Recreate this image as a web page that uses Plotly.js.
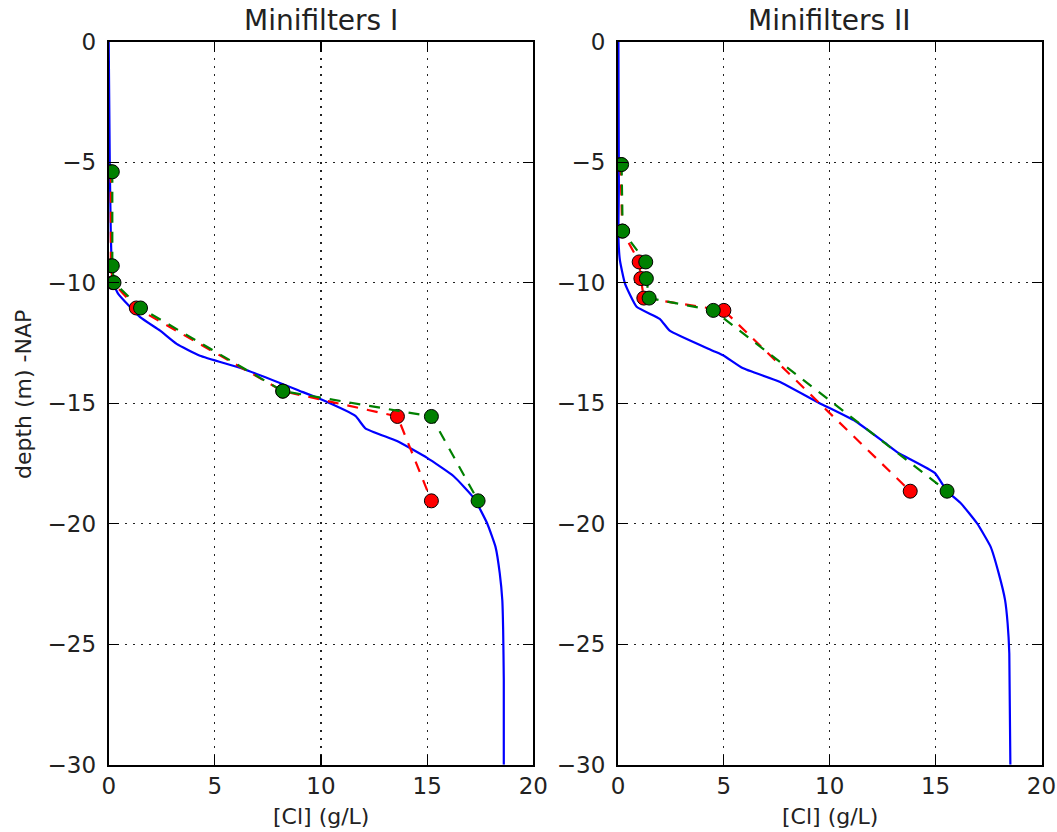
<!DOCTYPE html>
<html>
<head>
<meta charset="utf-8">
<script src="https://cdn.plot.ly/plotly-3.0.1.min.js"></script>
<style>body{margin:0;padding:0;background:#fff}#chart{width:1057px;height:832px}</style>
</head>
<body>
<div id="chart"></div>
<script>
// Panel I data
const blue1_x = [0.0, 0.05, 0.1, 0.15, 0.2, 0.45, 1.48, 2.42, 3.2, 4.3, 6.35, 9.0, 9.97, 11.62, 12.09, 13.58, 15.0, 16.25, 17.2, 17.83, 18.22, 18.42, 18.54, 18.58, 18.61, 18.61];
const blue1_y = [0, -5, -8, -9.5, -10.0, -10.46, -11.43, -11.99, -12.54, -13.03, -13.58, -14.49, -14.83, -15.53, -16.04, -16.57, -17.27, -18.03, -18.93, -19.99, -20.96, -22.06, -23.17, -24.4, -26.5, -30];
const red1_x = [0.1, 0.1, 0.2, 1.3, 8.2, 13.6, 15.2];
const red1_y = [-5.4, -9.3, -10.0, -11.05, -14.5, -15.55, -19.05];
const green1_x = [0.17, 0.17, 0.25, 1.5, 8.2, 15.2, 17.4];
const green1_y = [-5.4, -9.3, -10.0, -11.05, -14.5, -15.55, -19.05];

// Panel II data
const blue2_x = [0.02, 0.03, 0.04, 0.02, 0.09, 0.33, 0.88, 1.97, 2.44, 4.47, 5.0, 5.88, 7.6, 9.48, 11.2, 12.6, 13.24, 14.96, 15.54, 16.2, 16.96, 17.6, 17.98, 18.28, 18.4, 18.48, 18.53];
const blue2_y = [0, -3, -6, -8.1, -9.07, -10.04, -11.0, -11.5, -11.99, -12.82, -13.03, -13.54, -14.1, -14.98, -15.74, -16.64, -17.06, -17.89, -18.65, -19.16, -19.99, -20.96, -22.06, -23.17, -24.14, -25.38, -30];
const red2_x = [0.12, 0.2, 1.0, 1.08, 1.22, 5.0, 13.8];
const red2_y = [-5.1, -7.86, -9.14, -9.83, -10.64, -11.15, -18.65];
const green2_x = [0.17, 0.22, 1.31, 1.34, 1.47, 4.5, 15.54];
const green2_y = [-5.1, -7.86, -9.14, -9.83, -10.64, -11.15, -18.65];

const titles = ["Minifilters I", "Minifilters II"];
const xTitle = "[Cl] (g/L)";
const yTitle = "depth (m) -NAP";
const xTicks = [0, 5, 10, 15, 20];
const yTicks = [0, -5, -10, -15, -20, -25, -30];

const FONT = "DejaVu Sans, sans-serif";
function blue(x, y, xa, ya) {
  return {x: x, y: y, xaxis: xa, yaxis: ya, mode: 'lines', line: {color: '#0000ff', width: 2.2, shape: 'spline', smoothing: 0.4}, showlegend: false, hoverinfo: 'skip'};
}
function pts(x, y, c, xa, ya) {
  return {x: x, y: y, xaxis: xa, yaxis: ya, mode: 'lines+markers',
    line: {color: c, width: 2.2, dash: '11px,9px'},
    marker: {color: c, size: 14, line: {color: '#000', width: 1}},
    showlegend: false};
}
const traces = [
  blue(blue1_x, blue1_y, 'x', 'y'),
  pts(red1_x, red1_y, '#ff0000', 'x', 'y'),
  pts(green1_x, green1_y, '#008000', 'x', 'y'),
  blue(blue2_x, blue2_y, 'x2', 'y2'),
  pts(red2_x, red2_y, '#ff0000', 'x2', 'y2'),
  pts(green2_x, green2_y, '#008000', 'x2', 'y2'),
];

const yDom = [1 - 764.8 / 832, 1 - 41.6 / 832];
const common = {
  showgrid: true, gridcolor: '#222', griddash: '2px,6px', gridwidth: 1.2,
  showline: true, linecolor: '#000', linewidth: 2, mirror: 'allticks',
  ticks: 'inside', ticklen: 10, tickwidth: 1.2, tickcolor: '#000', zeroline: false,
  tickfont: {family: FONT, size: 23, color: '#222'}
};
function xax(dom, anchor) {
  return Object.assign({domain: dom, anchor: anchor, range: [0, 20], tickvals: xTicks, ticklabelstandoff: 0}, common);
}
function yax(anchor) {
  return Object.assign({domain: yDom, anchor: anchor, range: [-30, 0], tickvals: yTicks, ticklabelstandoff: 6}, common);
}
const x1 = [108.7 / 1057, 533.3 / 1057], x2 = [618 / 1057, 1041.5 / 1057];
function ann(text, x, y, size, rot) {
  return {text: text, x: x / 1057, y: 1 - y / 832, xref: 'paper', yref: 'paper', showarrow: false,
    xanchor: 'center', yanchor: 'middle', textangle: rot || 0, font: {family: FONT, size: size, color: '#222'}};
}
const layout = {
  width: 1057, height: 832,
  margin: {l: 0, r: 0, t: 0, b: 0},
  paper_bgcolor: '#fff', plot_bgcolor: '#fff',
  xaxis: xax(x1, 'y'),
  yaxis: yax('x'),
  xaxis2: xax(x2, 'y2'),
  yaxis2: yax('x2'),
  annotations: [
    ann(titles[0], 321, 21, 28),
    ann(titles[1], 829.5, 21, 28),
    ann(xTitle, 321, 816, 22),
    ann(xTitle, 829.5, 816, 22),
    ann(yTitle, 23, 395, 22, -90)
  ]
};
Plotly.newPlot('chart', traces, layout, {displayModeBar: false, staticPlot: true});
</script>
</body>
</html>
